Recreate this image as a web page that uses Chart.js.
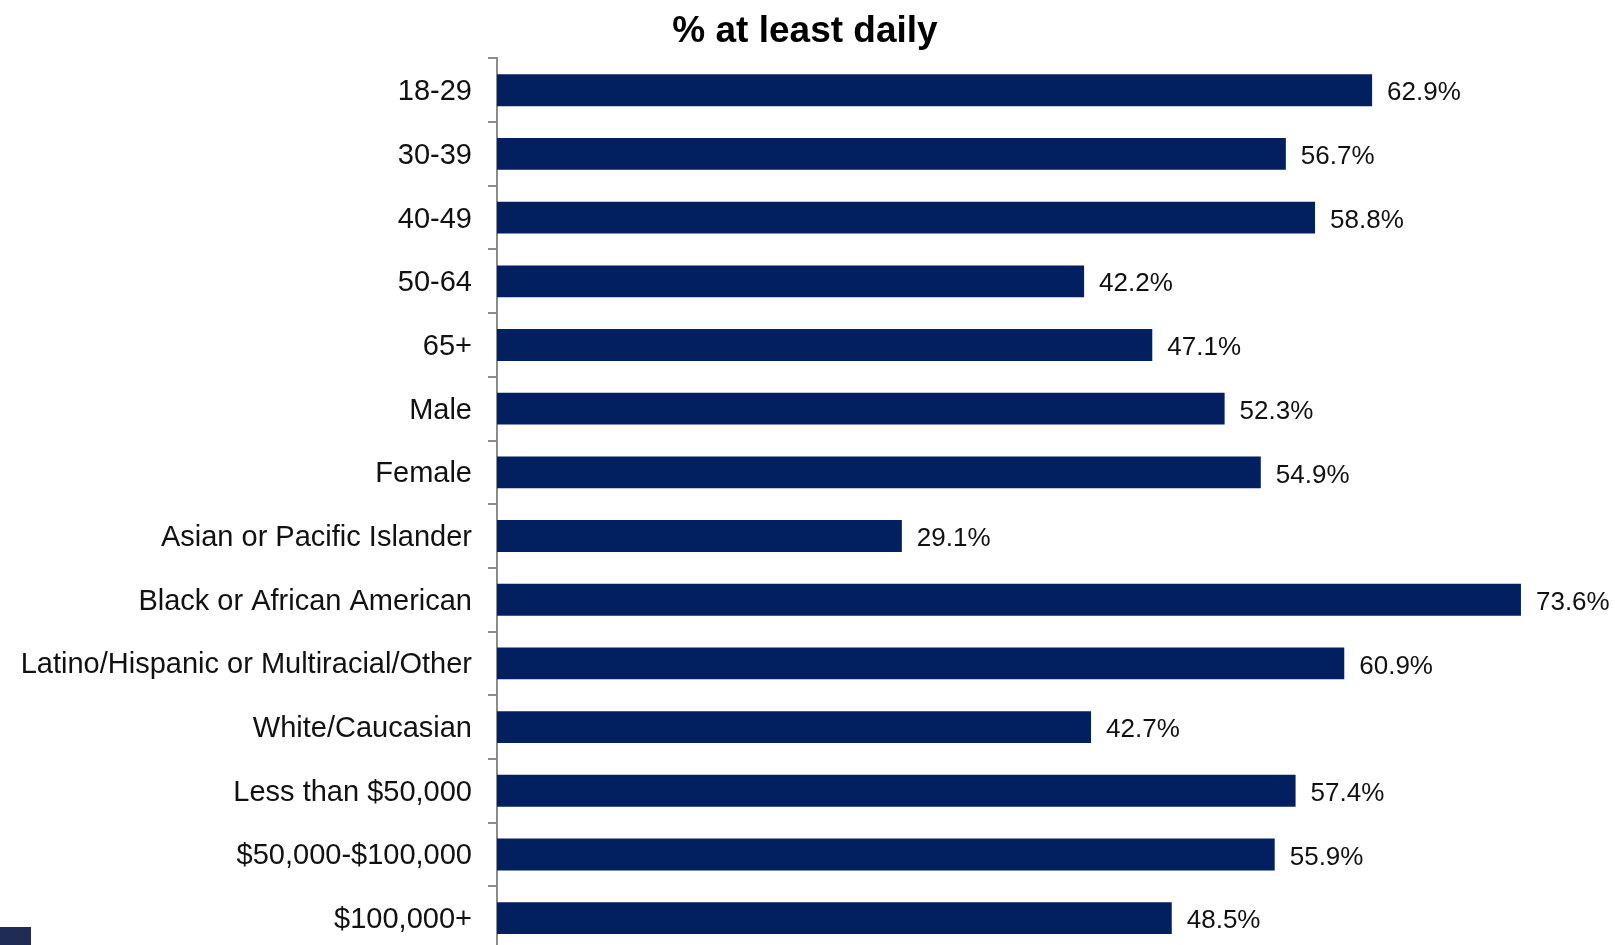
<!DOCTYPE html>
<html>
<head>
<meta charset="utf-8">
<script src="https://cdn.jsdelivr.net/npm/chart.js@4"></script>
<style>
  html, body { margin: 0; padding: 0; background: #fff; overflow: hidden; }
  #wrap { position: relative; width: 1615px; height: 955px; }
  #logo { position: absolute; left: 0; top: 927px; width: 31px; height: 30px; background: #1f2d55; }
</style>
</head>
<body>
<div id="wrap">
  <canvas id="daily-chart" width="1615" height="955"></canvas>
  <div id="logo"></div>
</div>
<script>
const categories = [
  '18-29', '30-39', '40-49', '50-64', '65+',
  'Male', 'Female',
  'Asian or Pacific Islander', 'Black or African American',
  'Latino/Hispanic or Multiracial/Other', 'White/Caucasian',
  'Less than $50,000', '$50,000-$100,000', '$100,000+'
];
const atLeastDaily = [62.9, 56.7, 58.8, 42.2, 47.1, 52.3, 54.9, 29.1, 73.6, 60.9, 42.7, 57.4, 55.9, 48.5];

const dailychart = document.getElementById('daily-chart');

// value labels at the end of each bar
const valueLabels = {
  id: 'valueLabels',
  afterDatasetsDraw(chart) {
    const ctx = chart.ctx;
    const meta = chart.getDatasetMeta(0);
    ctx.save();
    ctx.font = '26px "Liberation Sans", Arial, sans-serif';
    ctx.fillStyle = '#111';
    ctx.textAlign = 'left';
    ctx.textBaseline = 'middle';
    meta.data.forEach((bar, i) => {
      ctx.fillText(atLeastDaily[i].toFixed(1) + '%', bar.x + 15, bar.y + 3);
    });
    ctx.restore();
  }
};

new Chart(dailychart, {
  type: 'bar',
  data: {
    labels: categories,
    datasets: [{
      label: '% at least daily',
      data: atLeastDaily,
      backgroundColor: '#022060',
      borderColor: '#022060',
      borderWidth: 0,
      categoryPercentage: 1,
      barPercentage: 0.5
    }]
  },
  options: {
    indexAxis: 'y',
    responsive: false,
    animation: false,
    layout: {
      padding: { left: 0, right: 5, top: 0, bottom: 5 }
    },
    plugins: {
      legend: { display: false },
      tooltip: { enabled: false },
      title: {
        display: true,
        text: '% at least daily',
        color: '#000',
        font: { family: '"Liberation Sans", Arial, sans-serif', size: 37, weight: 'bold' },
        padding: { top: 10, bottom: 4 }
      }
    },
    scales: {
      x: {
        display: false,
        min: 0,
        max: 80
      },
      y: {
        afterFit: (scale) => {
          scale.width = 497;
          scale.paddingTop = 0;
          scale.paddingBottom = 0;
        },
        grid: {
          display: true,
          drawOnChartArea: false,
          offset: true,
          tickLength: 9,
          color: '#8c8c8c',
          lineWidth: 2
        },
        border: { display: true, color: '#8c8c8c', width: 2 },
        ticks: {
          color: '#111',
          padding: 16,
          labelOffset: 2,
          font: { family: '"Liberation Sans", Arial, sans-serif', size: 29 }
        }
      }
    }
  },
  plugins: [valueLabels]
});
</script>
</body>
</html>
